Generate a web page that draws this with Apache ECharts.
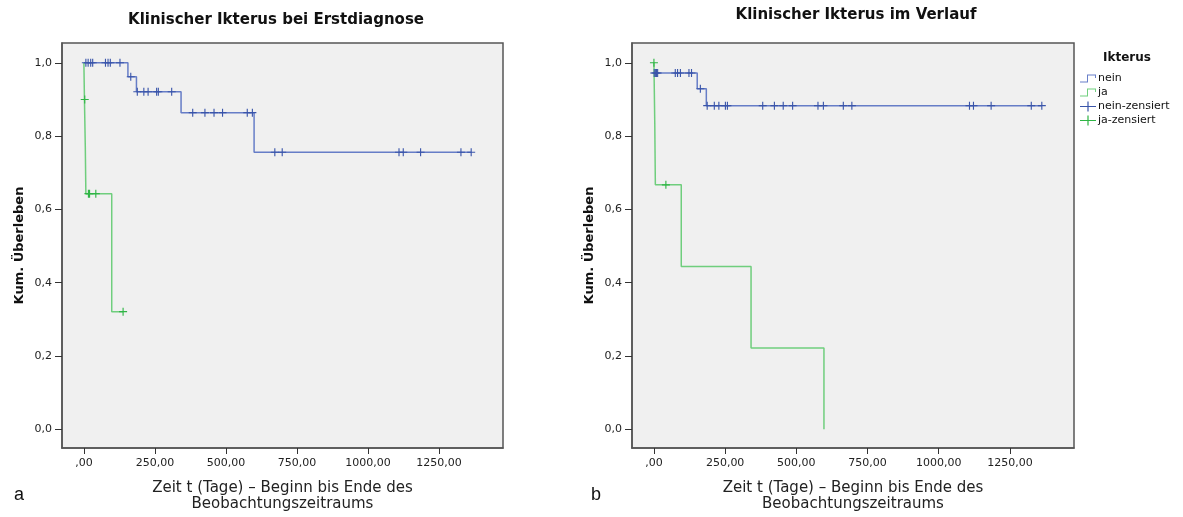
<!DOCTYPE html>
<html>
<head>
<meta charset="utf-8">
<script src="https://cdn.jsdelivr.net/npm/echarts@6/dist/echarts.min.js"></script>
<style>
html,body{margin:0;padding:0;background:#fff;}
#chart{width:1183px;height:517px;}
</style>
</head>
<body>
<div id="chart"></div>
<script>
// ---- Data (days, survival) ----
const xTicks = [0, 250, 500, 750, 1000, 1250];
const yTicks = [0, 0.2, 0.4, 0.6, 0.8, 1.0];

// Panel a: Klinischer Ikterus bei Erstdiagnose
const aNeinSteps = [[0,1],[155,0.962],[185,0.921],[342,0.864],[599,0.756],[1363,0.756]];
const aNeinCens = [[7,1],[15,1],[24,1],[31,1],[76,1],[85,1],[93,1],[127,1],
  [165,0.962],
  [188,0.921],[211,0.921],[226,0.921],[256,0.921],[262,0.921],[309,0.921],
  [383,0.864],[426,0.864],[458,0.864],[488,0.864],[575,0.864],[593,0.864],
  [672,0.756],[698,0.756],[1109,0.756],[1124,0.756],[1185,0.756],[1327,0.756],[1363,0.756]];
const aJaSteps = [[0,1],[2,0.9],[5,0.771],[7,0.643],[98,0.321],[138,0.321]];
const aJaCens = [[3,0.9],[16,0.643],[20,0.643],[42,0.643],[138,0.321]];

// Panel b: Klinischer Ikterus im Verlauf
const bNeinSteps = [[0,0.972],[152,0.929],[184,0.883],[1362,0.883]];
const bNeinCens = [[1,0.972],[5,0.972],[9,0.972],[13,0.972],[75,0.972],[83,0.972],[93,0.972],[123,0.972],[132,0.972],
  [163,0.929],
  [187,0.883],[212,0.883],[228,0.883],[251,0.883],[258,0.883],[382,0.883],[423,0.883],[454,0.883],[487,0.883],
  [576,0.883],[595,0.883],[665,0.883],[695,0.883],[1108,0.883],[1122,0.883],[1184,0.883],[1325,0.883],[1362,0.883]];
const bJaSteps = [[0,1],[3,0.833],[5,0.667],[96,0.444],[341,0.222],[597,0]];
const bJaCens = [[0,1],[42,0.667]];

// ---- Styling ----
const BLUE_LINE = 'rgba(78,104,192,0.85)';
const BLUE_MARK = '#3a55aa';
const GREEN_LINE = 'rgba(88,200,104,0.85)';
const GREEN_MARK = '#2fb545';
const FONT = 'DejaVu Sans';
const CROSS = 'path://M4.3,0 H5.7 V4.3 H10 V5.7 H5.7 V10 H4.3 V5.7 H0 V4.3 H4.3 Z';
const STEP_ICON = 'path://M0,8 H7 V1 H16 V4.5 H15 V2 H8 V9 H0 Z';
const CROSS_ICON = 'path://M7.4,0 H8.6 V4.4 H16 V5.6 H8.6 V10 H7.4 V5.6 H0 V4.4 H7.4 Z';

function xFmt(v){ return v === 0 ? ',00' : v.toFixed(2).replace('.', ','); }
function yFmt(v){ return v.toFixed(1).replace('.', ','); }

function xAxis(idx){
  return {
    type:'value', gridIndex: idx, min: -77, max: 1475,
    name: 'Zeit t (Tage) – Beginn bis Ende des\nBeobachtungszeitraums',
    nameLocation:'middle', nameGap: 32,
    nameTextStyle:{fontFamily:FONT, fontSize:15, color:'#222', lineHeight:16},
    axisLine:{show:true, onZero:false, lineStyle:{color:'#555', width:1.5}},
    axisTick:{show:true, inside:false, length:6, customValues:xTicks, lineStyle:{color:'#333', width:1}},
    axisLabel:{customValues:xTicks, formatter:xFmt, margin:10, fontFamily:FONT, fontSize:11, color:'#222'},
    splitLine:{show:false}
  };
}
function yAxis(idx){
  return {
    type:'value', gridIndex: idx, min: -0.051, max: 1.054,
    name:'Kum. Überleben', nameLocation:'middle', nameGap: 36, nameRotate: 90,
    nameTextStyle:{fontFamily:FONT, fontSize:13, fontWeight:'bold', color:'#111'},
    axisLine:{show:true, onZero:false, lineStyle:{color:'#555', width:1.5}},
    axisTick:{show:true, inside:false, length:7, customValues:yTicks, lineStyle:{color:'#333', width:1}},
    axisLabel:{customValues:yTicks, formatter:yFmt, margin:10, fontFamily:FONT, fontSize:11, color:'#222'},
    splitLine:{show:false}
  };
}
function stepSeries(name, data, idx, color){
  return {name, type:'line', step:'end', xAxisIndex:idx, yAxisIndex:idx, data,
    showSymbol:false, symbol:'none', lineStyle:{color, width:1.5}, itemStyle:{color}, silent:true, z:2};
}
function censSeries(name, data, idx, color){
  return {name, type:'scatter', xAxisIndex:idx, yAxisIndex:idx, data,
    symbol:CROSS, symbolSize:[8,8], itemStyle:{color, opacity:1}, silent:true, z:3};
}

const chart = echarts.init(document.getElementById('chart'), null, {renderer:'canvas'});
chart.setOption({
  animation:false,
  backgroundColor:'#ffffff',
  grid:[
    {left:62, top:43, width:441, height:409, show:true, backgroundColor:'#f0f0f0', borderColor:'#555', borderWidth:1.5},
    {left:632, top:43, width:442, height:409, show:true, backgroundColor:'#f0f0f0', borderColor:'#555', borderWidth:1.5}
  ],
  xAxis:[xAxis(0), xAxis(1)],
  yAxis:[yAxis(0), yAxis(1)],
  legend:{
    orient:'vertical', left:1075, top:68, itemWidth:16, itemHeight:10, itemGap:3,
    selectedMode:false,
    textStyle:{fontFamily:FONT, fontSize:11, color:'#111', padding:[0,0,0,-3]},
    data:[
      {name:'nein', icon:STEP_ICON, itemStyle:{color:BLUE_LINE}},
      {name:'ja', icon:STEP_ICON, itemStyle:{color:GREEN_LINE}},
      {name:'nein-zensiert', icon:CROSS_ICON, itemStyle:{color:BLUE_MARK}},
      {name:'ja-zensiert', icon:CROSS_ICON, itemStyle:{color:GREEN_MARK}}
    ]
  },
  graphic:[
    {type:'text', style:{text:'Klinischer Ikterus bei Erstdiagnose', x:276, y:20, align:'center', verticalAlign:'middle', font:'bold 15px "DejaVu Sans"', fill:'#111'}},
    {type:'text', style:{text:'Klinischer Ikterus im Verlauf', x:856, y:15, align:'center', verticalAlign:'middle', font:'bold 15px "DejaVu Sans"', fill:'#111'}},
    {type:'text', style:{text:'Ikterus', x:1127, y:58, align:'center', verticalAlign:'middle', font:'bold 12px "DejaVu Sans"', fill:'#111'}},
    {type:'text', style:{text:'a', x:14, y:495, align:'left', verticalAlign:'middle', font:'18px "Liberation Sans"', fill:'#111'}},
    {type:'text', style:{text:'b', x:591, y:495, align:'left', verticalAlign:'middle', font:'18px "Liberation Sans"', fill:'#111'}}
  ],
  series:[
    stepSeries('nein', aNeinSteps, 0, BLUE_LINE),
    stepSeries('ja', aJaSteps, 0, GREEN_LINE),
    censSeries('nein-zensiert', aNeinCens, 0, BLUE_MARK),
    censSeries('ja-zensiert', aJaCens, 0, GREEN_MARK),
    stepSeries('nein', bNeinSteps, 1, BLUE_LINE),
    stepSeries('ja', bJaSteps, 1, GREEN_LINE),
    censSeries('nein-zensiert', bNeinCens, 1, BLUE_MARK),
    censSeries('ja-zensiert', bJaCens, 1, GREEN_MARK)
  ]
});
</script>
</body>
</html>
